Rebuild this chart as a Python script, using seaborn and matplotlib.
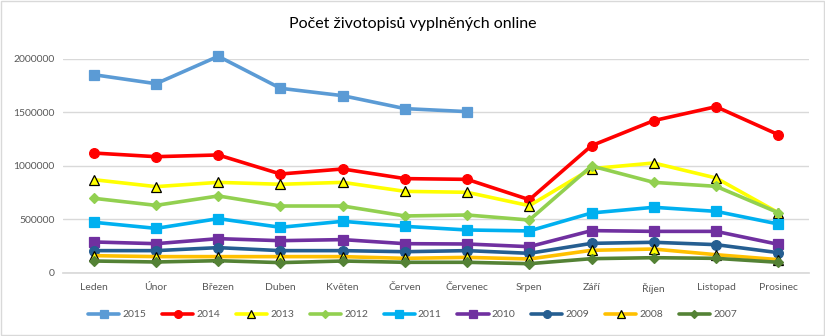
import matplotlib
matplotlib.use("Agg")
import matplotlib.pyplot as plt
import seaborn as sns
import pandas as pd
import numpy as np

months = ["Leden", "Únor", "Březen", "Duben", "Květen", "Červen", "Červenec",
          "Srpen", "Září", "Říjen", "Listopad", "Prosinec"]

y2015 = [1853000, 1769000, 2025000, 1726000, 1657000, 1536000, 1508000,
         None, None, None, None, None]
y2014 = [1121000, 1087000, 1103000, 925000, 972000, 882000, 875000,
         685000, 1190000, 1424000, 1554000, 1293000]
y2013 = [872000, 807000, 847000, 829000, 847000, 763000, 754000,
         629000, 975000, 1028000, 888000, 564000]
y2012 = [698000, 632000, 720000, 626000, 626000, 533000, 542000,
         495000, 1000000, 847000, 810000, 564000]
y2011 = [474000, 417000, 508000, 427000, 483000, 436000, 402000,
         393000, 561000, 614000, 576000, 458000]
y2010 = [290000, 274000, 321000, 302000, 312000, 274000, 271000,
         246000, 396000, 389000, 389000, 268000]
y2009 = [209000, 209000, 237000, 209000, 209000, 199000, 209000,
         184000, 277000, 287000, 265000, 190000]
y2008 = [162000, 153000, 153000, 153000, 153000, 137000, 146000,
         131000, 212000, 224000, 171000, 125000]
y2007 = [112000, 103000, 115000, 97000, 112000, 100000, 100000,
         87000, 134000, 143000, 137000, 100000]

series = {"2015": y2015, "2014": y2014, "2013": y2013, "2012": y2012,
          "2011": y2011, "2010": y2010, "2009": y2009, "2008": y2008,
          "2007": y2007}

styles = {
    "2015": dict(color="#5B9BD5", marker="s", mfc="#5B9BD5", mec="#5B9BD5", ms=7),
    "2014": dict(color="#FF0000", marker="o", mfc="#FF0000", mec="#FF0000", ms=7),
    "2013": dict(color="#FFFF00", marker="^", mfc="#FFFF00", mec="black", ms=7),
    "2012": dict(color="#92D050", marker="D", mfc="#92D050", mec="#92D050", ms=5),
    "2011": dict(color="#00B0F0", marker="s", mfc="#00B0F0", mec="#00B0F0", ms=7),
    "2010": dict(color="#7030A0", marker="s", mfc="#7030A0", mec="#7030A0", ms=7),
    "2009": dict(color="#255E91", marker="o", mfc="#255E91", mec="#255E91", ms=7),
    "2008": dict(color="#FFC000", marker="^", mfc="#FFFF00", mec="black", ms=7),
    "2007": dict(color="#548235", marker="D", mfc="#548235", mec="#548235", ms=5),
}

sns.set_theme(style="white")
plt.rcParams["font.family"] = ["Lato", "DejaVu Sans"]

fig = plt.figure(figsize=(8.25, 3.36), dpi=100)
ax = fig.add_axes([0.076, 0.1875, 0.905, 0.637])

rows = []
for name, vals in series.items():
    for i, v in enumerate(vals):
        if v is not None:
            rows.append({"year": name, "idx": i, "value": v})
df = pd.DataFrame(rows)

for name in series:
    st = styles[name]
    sub = df[df["year"] == name]
    sns.lineplot(data=sub, x="idx", y="value", ax=ax, color=st["color"],
                 linewidth=2.6, marker=st["marker"], markersize=st["ms"],
                 markerfacecolor=st["mfc"], markeredgecolor=st["mec"],
                 markeredgewidth=0.9, label=name, legend=False, clip_on=False,
                 zorder=3)

ax.set_xlim(-0.5, 11.5)
ax.set_ylim(0, 2000000)
ax.set_yticks([0, 500000, 1000000, 1500000, 2000000])
ax.set_yticklabels(["0", "500000", "1000000", "1500000", "2000000"])
ax.set_xticks(range(12))
ax.set_xticklabels(months)
ax.set_xlabel("")
ax.set_ylabel("")
ax.grid(axis="y", color="#D9D9D9", linewidth=1)
ax.grid(axis="x", visible=False)
for s in ["top", "right", "left"]:
    ax.spines[s].set_visible(False)
ax.spines["bottom"].set_color("#D9D9D9")
ax.tick_params(axis="both", length=0, labelsize=7.5, colors="#595959", pad=6)
ax.tick_params(axis="x", pad=7)

fig.suptitle("Počet životopisů vyplněných online", y=0.948, fontsize=11.5,
             color="#000000")

h, l = ax.get_legend_handles_labels()
leg = fig.legend(h, l, loc="center", bbox_to_anchor=(0.5, 0.063), ncol=9,
                 frameon=False, fontsize=7.5, handlelength=3.0,
                 columnspacing=1.5, handletextpad=0.3, markerscale=0.8)
for t in leg.get_texts():
    t.set_color("#595959")

border = plt.Rectangle((0.001, 0.002), 0.998, 0.996, transform=fig.transFigure,
                       fill=False, edgecolor="#D9D9D9", linewidth=1)
fig.patches.append(border)

fig.savefig("out.png", dpi=100)
